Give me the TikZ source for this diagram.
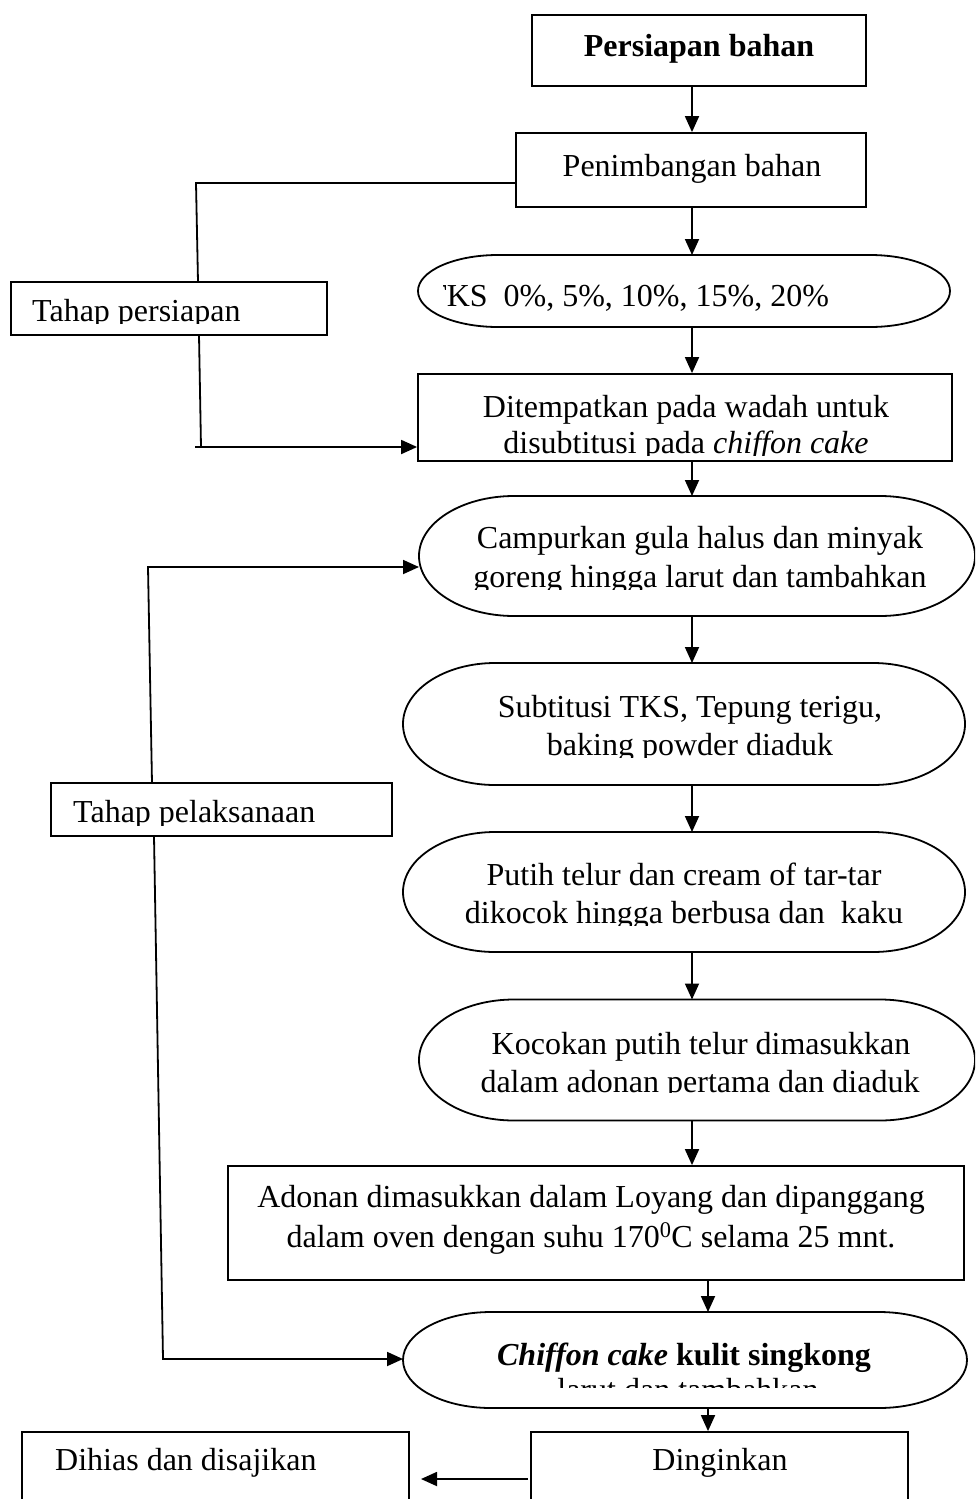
\documentclass[tikz,border=0pt]{standalone}
\usepackage{fontspec}
\setmainfont{Liberation Serif}
\usetikzlibrary{arrows.meta}
\tikzset{
  box/.style={draw, rectangle, line width=1.8pt, inner sep=0pt},
  frame/.style={rectangle, draw=none, inner sep=0pt, outer sep=0pt},
  shapeline/.style={line width=1.8pt},
  txt/.style={inner sep=0pt, anchor=base, font=\fontsize{32}{38}\selectfont},
  ltxt/.style={inner sep=0pt, anchor=base west, font=\fontsize{32}{38}\selectfont},
  conn/.style={line width=1.8pt},
  arr/.style={line width=1.8pt, -{Triangle[length=16pt,width=14pt]}}
}
\newcommand{\capsule}[3]{%
  \draw[shapeline] ([xshift=#2]#1.north west) -- ([xshift=-#2]#1.north east)
    arc[start angle=90,end angle=-90,x radius=#2,y radius=#3]
    -- ([xshift=#2]#1.south west)
    arc[start angle=270,end angle=90,x radius=#2,y radius=#3] -- cycle;}
\begin{document}
\begin{tikzpicture}[x=1pt,y=-1pt]
\clip (0,0) rectangle (975,1499);
\useasboundingbox (0,0) rectangle (975,1499);
\fill[white] (0,0) rectangle (975,1499);
\coordinate (ax) at (692,0);
\coordinate (bx) at (708,0);

% shapes
\node[box, minimum width=334pt, minimum height=71pt] (b1) at (699,50.5) {};
\node[box, minimum width=350pt, minimum height=74pt] (b2) at (691,170) {};
\node[frame, minimum width=532pt, minimum height=72pt] (tks) at (684,291) {};
\capsule{tks}{80pt}{36pt}
\node[box, minimum width=534pt, minimum height=87pt] (b4) at (685,417.5) {};
\node[frame, minimum width=556pt, minimum height=120pt] (e5) at (697,556) {};
\capsule{e5}{95pt}{60pt}
\node[frame, minimum width=562pt, minimum height=122pt] (e6) at (684,724) {};
\capsule{e6}{92pt}{61pt}
\node[frame, minimum width=562pt, minimum height=120pt] (e7) at (684,892) {};
\capsule{e7}{92pt}{60pt}
\node[frame, minimum width=556pt, minimum height=121pt] (e8) at (697,1060) {};
\capsule{e8}{95pt}{60.5pt}
\node[box, minimum width=736pt, minimum height=114pt] (b9) at (596,1223) {};
\node[frame, minimum width=564pt, minimum height=96pt] (e10) at (685,1360) {};
\capsule{e10}{88pt}{48pt}
\node[box, minimum width=377pt, minimum height=88pt] (b11) at (719.5,1476) {};
\node[box, minimum width=387pt, minimum height=88pt] (b12) at (215.5,1476) {};
\node[box, minimum width=316pt, minimum height=53pt] (tp1) at (169,308.5) {};
\node[box, minimum width=341pt, minimum height=53pt] (tp2) at (221.5,809.5) {};

% texts
\node[txt, font=\fontsize{32}{38}\selectfont\bfseries] (t1) at (699,56) {Persiapan bahan};
\node[txt] (t2) at (692,176) {Penimbangan bahan};
\begin{scope}
  \clip (443,260) rectangle (940,324);
  \node[ltxt] (t3) at (427,306) {TKS\ \ 0\%, 5\%, 10\%, 15\%, 20\%};
\end{scope}
\begin{scope}
  \clip (420,376) rectangle (950,455);
  \node[txt] (t4a) at (686,417) {Ditempatkan pada wadah untuk};
  \node[txt] (t4b) at (686,453) {disubtitusi pada \textit{chiffon cake}};
\end{scope}
\begin{scope}
  \clip (420,500) rectangle (975,589);
  \node[txt] (t5a) at (700,548) {Campurkan gula halus dan minyak};
  \node[txt] (t5b) at (700,587) {goreng hingga larut dan tambahkan};
\end{scope}
\begin{scope}
  \clip (420,680) rectangle (960,757);
  \node[txt] (t6a) at (690,717) {Subtitusi TKS, Tepung terigu,};
  \node[txt] (t6b) at (690,755) {baking powder diaduk};
\end{scope}
\begin{scope}
  \clip (420,845) rectangle (960,925);
  \node[txt] (t7a) at (684,885) {Putih telur dan cream of tar-tar};
  \node[txt] (t7b) at (684,923) {dikocok hingga berbusa dan\ \ kaku};
\end{scope}
\begin{scope}
  \clip (420,1010) rectangle (975,1092);
  \node[txt] (t8a) at (701,1054) {Kocokan putih telur dimasukkan};
  \node[txt] (t8b) at (700,1092) {dalam adonan pertama dan diaduk};
\end{scope}
\node[txt] (t9a) at (591,1207) {Adonan dimasukkan dalam Loyang dan dipanggang};
\node[txt] (t9b) at (591,1247) {dalam oven dengan suhu 170\textsuperscript{0}C selama 25 mnt.};
\begin{scope}
  \clip (420,1320) rectangle (960,1387);
  \node[txt] (t10a) at (684,1365) {\textbf{\textit{Chiffon cake}} \textbf{kulit singkong}};
  \node[txt] (t10b) at (688,1400) {larut dan tambahkan};
\end{scope}
\node[txt] (t11) at (720,1470) {Dinginkan};
\node[ltxt] (t12) at (55,1470) {Dihias dan disajikan};
\begin{scope}
  \clip (12,284) rectangle (326,323);
  \node[ltxt] (tp1t) at (32,321) {Tahap persiapan};
\end{scope}
\begin{scope}
  \clip (52,785) rectangle (391,825);
  \node[ltxt] (tp2t) at (73,822) {Tahap pelaksanaan};
\end{scope}

% main flow
\draw[arr] (b1.south -| ax) -- (b2.north -| ax);
\draw[arr] (b2.south -| ax) -- (tks.north -| ax);
\draw[arr] (tks.south -| ax) -- (b4.north -| ax);
\draw[arr] (b4.south -| ax) -- (e5.north -| ax);
\draw[arr] (e5.south -| ax) -- (e6.north -| ax);
\draw[arr] (e6.south -| ax) -- (e7.north -| ax);
\draw[arr] (e7.south -| ax) -- (e8.north -| ax);
\draw[arr] (e8.south -| ax) -- (b9.north -| ax);
\draw[arr] (b9.south -| bx) -- (e10.north -| bx);
\draw[arr] (e10.south -| bx) -- (b11.north -| bx);
\coordinate (s1) at (528,1479);
\coordinate (s2) at (421,1479);
\draw[arr] (s1) -- (s2);

% side connectors
\coordinate (p1) at (196,183);
\coordinate (p2) at (198,282);
\coordinate (p3) at (199,335);
\coordinate (p4) at (201,447);
\coordinate (p5) at (195,447);
\draw[conn] (b2.west |- p1) -- (p1) -- (p2);
\draw[conn] (p3) -- (p4);
\draw[arr] (p5) -- (b4.west |- p5);
\coordinate (q1) at (152,783);
\coordinate (q2) at (148,567);
\draw[arr] (q1) -- (q2) -- (e5.west |- q2);
\coordinate (r1) at (154,836);
\coordinate (r2) at (163,1359);
\draw[arr] (r1) -- (r2) -- (e10.west |- r2);
\end{tikzpicture}
\end{document}
